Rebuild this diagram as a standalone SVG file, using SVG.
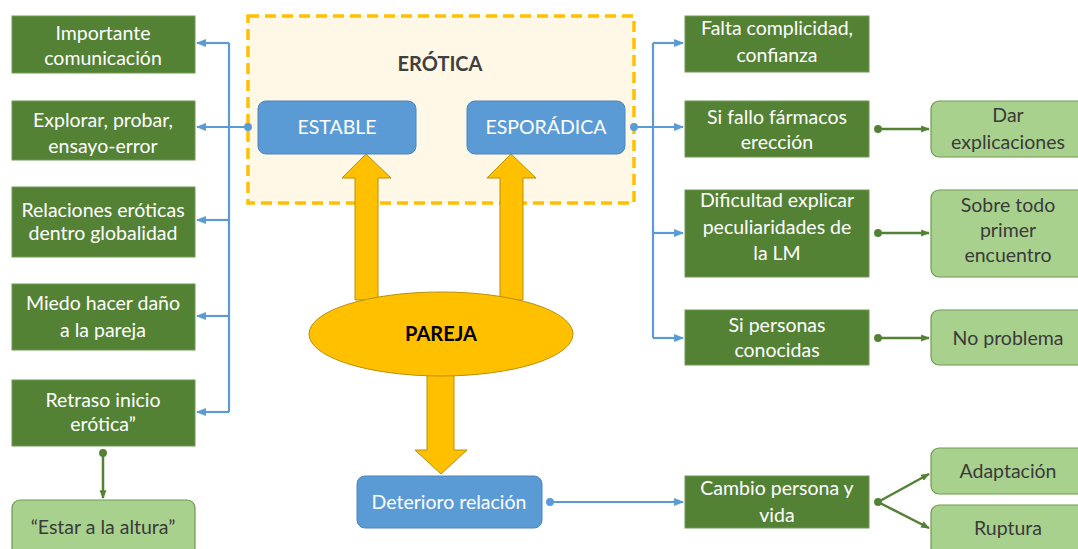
<svg xmlns="http://www.w3.org/2000/svg" width="1078" height="549" viewBox="0 0 1078 549">
<style>
text{font-family:Lato,"Open Sans","Liberation Sans",sans-serif;font-size:19.5px;text-anchor:middle}
.dg{fill:#548235;stroke:#6f9a52;stroke-width:1}
.lg{fill:#A9D18E;stroke:#6f9a52;stroke-width:1.2}
.bl{fill:#5B9BD5;stroke:#4a86be;stroke-width:1}
.w{fill:#ffffff}
.k{fill:#3a3a3a}
.bc{fill:none;stroke:#5B9BD5;stroke-width:2.2}
.gc{fill:none;stroke:#548235;stroke-width:2.5}
.ya{fill:#FFC000;stroke:#B8900A;stroke-width:1}
.b{font-weight:bold;font-size:20px}
</style>
<defs>
<marker id="ba" viewBox="0 0 10 10" refX="9" refY="5" markerWidth="4.5" markerHeight="4.5" orient="auto" markerUnits="strokeWidth"><path d="M0,1 L10,5 L0,9 z" fill="#5B9BD5"/></marker>
<marker id="bd" viewBox="0 0 10 10" refX="5" refY="5" markerWidth="4" markerHeight="4" markerUnits="strokeWidth"><circle cx="5" cy="5" r="4.5" fill="#5B9BD5"/></marker>
<marker id="ga" viewBox="0 0 10 10" refX="9" refY="5" markerWidth="3.5" markerHeight="3.5" orient="auto" markerUnits="strokeWidth"><path d="M0,1 L10,5 L0,9 z" fill="#548235"/></marker>
<marker id="gd" viewBox="0 0 10 10" refX="5" refY="5" markerWidth="3.5" markerHeight="3.5" markerUnits="strokeWidth"><circle cx="5" cy="5" r="4.5" fill="#548235"/></marker>
</defs>
<rect width="1078" height="549" fill="#ffffff"/>

<g id="erotica">
<rect x="248" y="16" width="386" height="187" fill="#FFF8E6" stroke="#FFC000" stroke-width="3.5" stroke-dasharray="11,6"/>
<text class="b" x="440" y="71" fill="#404040">ERÓTICA</text>
</g>

<g id="connectors">
<path class="bc" d="M248,127 L197,127" marker-start="url(#bd)" marker-end="url(#ba)"/>
<path class="bc" d="M229,43 L229,412"/>
<path class="bc" d="M229,43 L197,43" marker-end="url(#ba)"/>
<path class="bc" d="M229,220 L197,220" marker-end="url(#ba)"/>
<path class="bc" d="M229,316 L197,316" marker-end="url(#ba)"/>
<path class="bc" d="M229,412 L197,412" marker-end="url(#ba)"/>
<path class="bc" d="M634,127 L683,127" marker-start="url(#bd)" marker-end="url(#ba)"/>
<path class="bc" d="M653,43 L653,338"/>
<path class="bc" d="M653,43 L683,43" marker-end="url(#ba)"/>
<path class="bc" d="M653,233 L683,233" marker-end="url(#ba)"/>
<path class="bc" d="M653,338 L683,338" marker-end="url(#ba)"/>
<path class="bc" d="M550,502 L683,502" marker-start="url(#bd)" marker-end="url(#ba)"/>
<path class="gc" d="M878,129 L929,129" marker-start="url(#gd)" marker-end="url(#ga)"/>
<path class="gc" d="M878,233 L929,233" marker-start="url(#gd)" marker-end="url(#ga)"/>
<path class="gc" d="M878,338 L929,338" marker-start="url(#gd)" marker-end="url(#ga)"/>
<path class="gc" d="M878,502 L929,474" marker-start="url(#gd)" marker-end="url(#ga)"/>
<path class="gc" d="M878,502 L929,528" marker-end="url(#ga)"/>
<path class="gc" d="M103,453 L103,498" marker-start="url(#gd)" marker-end="url(#ga)"/>
<path class="ya" d="M355,300 L355,178 L342,178 L366,154 L391,178 L378,178 L378,300 z"/>
<path class="ya" d="M500,300 L500,178 L487,178 L511,154 L536,178 L523,178 L523,300 z"/>
<path class="ya" d="M427,368 L427,450 L415,450 L441,474 L467,450 L454,450 L454,368 z"/>
</g>

<g id="estable"><rect class="bl" x="258" y="101" width="158" height="53" rx="8"/><text class="w" x="337" y="134">ESTABLE</text></g>
<g id="esporadica"><rect class="bl" x="467" y="101" width="158" height="53" rx="8"/><text class="w" x="546" y="134">ESPORÁDICA</text></g>

<g id="pareja"><ellipse cx="441" cy="334" rx="132" ry="42" fill="#FFC000" stroke="#B8900A" stroke-width="1"/><text class="b" x="441" y="341" fill="#000000">PAREJA</text></g>

<g id="deterioro"><rect class="bl" x="357" y="476" width="185" height="52" rx="8"/><text class="w" x="449" y="509">Deterioro relación</text></g>

<g id="importante"><rect class="dg" x="12" y="16" width="183" height="57"/><text class="w" x="103" y="40">Importante</text><text class="w" x="103" y="65">comunicación</text></g>
<g id="explorar"><rect class="dg" x="12" y="101" width="183" height="59"/><text class="w" x="103" y="127">Explorar, probar,</text><text class="w" x="103" y="153">ensayo-error</text></g>
<g id="relaciones"><rect class="dg" x="12" y="187" width="183" height="70"/><text class="w" x="103" y="217">Relaciones eróticas</text><text class="w" x="103" y="240">dentro globalidad</text></g>
<g id="miedo"><rect class="dg" x="12" y="284" width="183" height="66"/><text class="w" x="103" y="310">Miedo hacer daño</text><text class="w" x="103" y="337">a la pareja</text></g>
<g id="retraso"><rect class="dg" x="12" y="380" width="183" height="66"/><text class="w" x="103" y="407">Retraso inicio</text><text class="w" x="103" y="431">erótica”</text></g>
<g id="estar"><rect class="lg" x="12" y="500" width="183" height="56" rx="8"/><text class="k" x="103" y="534">“Estar a la altura”</text></g>

<g id="falta"><rect class="dg" x="685" y="16" width="184" height="56"/><text class="w" x="777" y="35">Falta complicidad,</text><text class="w" x="777" y="62">confianza</text></g>
<g id="sifallo"><rect class="dg" x="685" y="101" width="184" height="56"/><text class="w" x="777" y="124">Si fallo fármacos</text><text class="w" x="777" y="149">erección</text></g>
<g id="dificultad"><rect class="dg" x="685" y="190" width="184" height="87"/><text class="w" x="777" y="207">Dificultad explicar</text><text class="w" x="777" y="234">peculiaridades de</text><text class="w" x="777" y="260">la LM</text></g>
<g id="sipersonas"><rect class="dg" x="685" y="310" width="184" height="55"/><text class="w" x="777" y="332">Si personas</text><text class="w" x="777" y="357">conocidas</text></g>
<g id="cambio"><rect class="dg" x="685" y="476" width="184" height="52"/><text class="w" x="777" y="495">Cambio persona y</text><text class="w" x="777" y="522">vida</text></g>

<g id="dar"><rect class="lg" x="931" y="101" width="155" height="56" rx="8"/><text class="k" x="1008" y="122">Dar</text><text class="k" x="1008" y="149">explicaciones</text></g>
<g id="sobretodo"><rect class="lg" x="931" y="190" width="155" height="87" rx="8"/><text class="k" x="1008" y="212">Sobre todo</text><text class="k" x="1008" y="237">primer</text><text class="k" x="1008" y="262">encuentro</text></g>
<g id="noproblema"><rect class="lg" x="931" y="310" width="155" height="55" rx="8"/><text class="k" x="1008" y="345">No problema</text></g>
<g id="adaptacion"><rect class="lg" x="931" y="448" width="155" height="46" rx="8"/><text class="k" x="1008" y="478">Adaptación</text></g>
<g id="ruptura"><rect class="lg" x="931" y="505" width="155" height="52" rx="8"/><text class="k" x="1008" y="535">Ruptura</text></g>
</svg>
